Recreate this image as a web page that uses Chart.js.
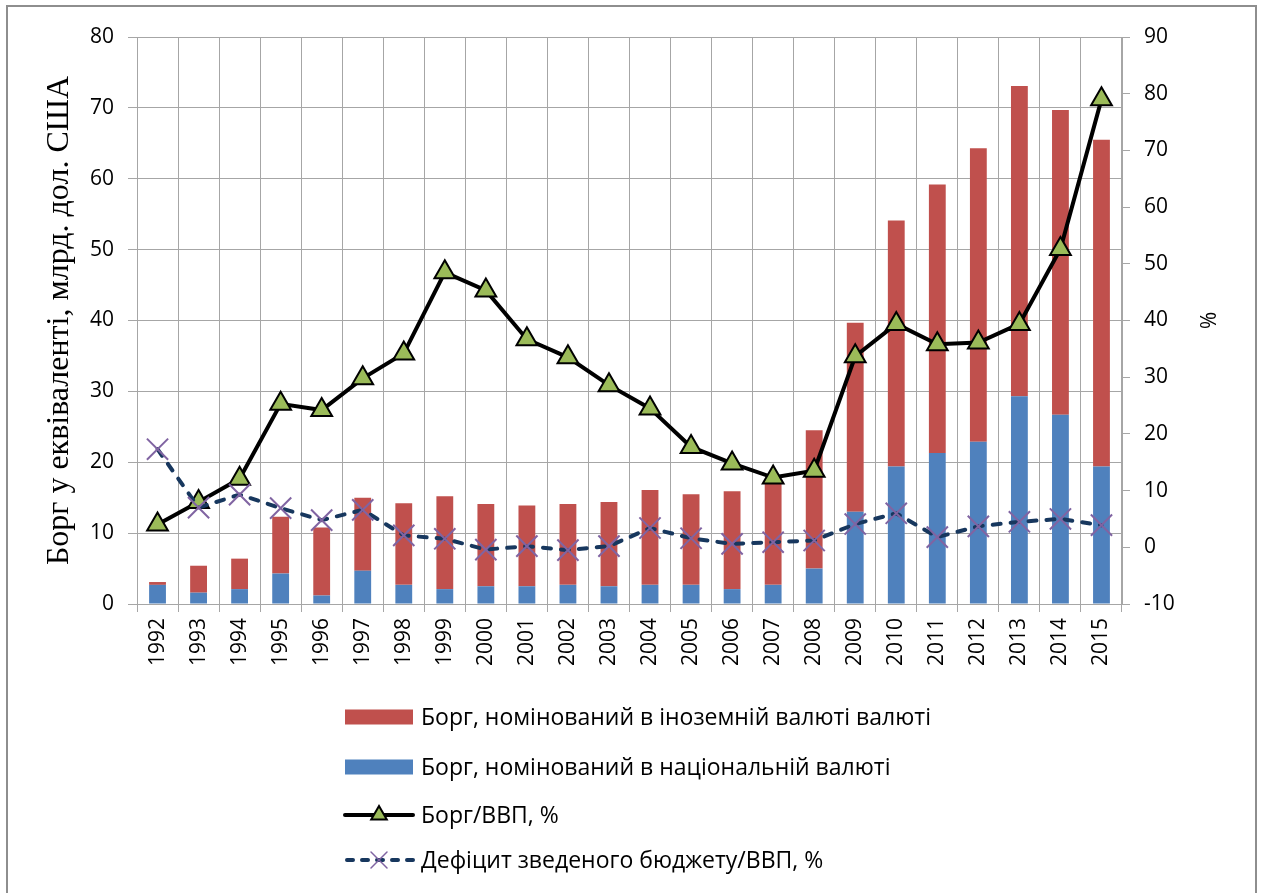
<!DOCTYPE html>
<html>
<head>
<meta charset="utf-8">
<script src="https://cdn.jsdelivr.net/npm/chart.js"></script>
<style>
  html, body { margin: 0; padding: 0; background: #fff; }
  #frame { position: absolute; left: 6px; top: 5px; width: 1247px; height: 900px; border: 2px solid #8e8e8e; }
  #c { position: absolute; left: 0; top: 0; }
</style>
</head>
<body>
<div id="frame"></div>
<canvas id="c" width="1265" height="893"></canvas>
<script>
// ---- data ----
const years = ['1992','1993','1994','1995','1996','1997','1998','1999','2000','2001','2002','2003',
               '2004','2005','2006','2007','2008','2009','2010','2011','2012','2013','2014','2015'];
const debtNational = [2.7,1.6,2.1,4.3,1.2,4.7,2.7,2.1,2.5,2.5,2.7,2.5,2.7,2.7,2.1,2.7,5.0,13.0,19.4,21.3,22.9,29.3,26.7,19.4];
const debtForeign  = [0.4,3.8,4.3,8.0,9.6,10.3,11.5,13.1,11.6,11.4,11.4,11.9,13.4,12.8,13.8,14.8,19.5,26.7,34.7,37.9,41.4,43.8,43.0,46.1];
const debtToGdp    = [4.0,8.0,12.1,25.3,24.2,29.8,34.2,48.5,45.3,36.7,33.5,28.6,24.5,17.7,14.8,12.3,13.5,33.7,39.4,35.8,36.1,39.4,52.6,79.0];
const deficitToGdp = [17.3,7.0,9.3,6.9,4.8,6.6,2.1,1.5,-0.4,0.2,-0.5,0.2,3.4,1.6,0.6,0.9,1.2,4.1,6.0,1.8,3.7,4.5,5.0,3.9];
const leftTicks  = {min: 0, max: 80, step: 10};
const rightTicks = {min: -10, max: 90, step: 10};
const labels = {
  foreign: 'Борг, номінований в іноземній валюті валюті',
  national: 'Борг, номінований в національній валюті',
  ratio: 'Борг/ВВП, %',
  deficit: 'Дефіцит зведеного бюджету/ВВП, %',
  yTitle: 'Борг у еквіваленті, млрд. дол. США',
  y1Title: '%'
};

const FONT = '"Open Sans", "Noto Sans", sans-serif';
const GRID = '#a6a6a6';
const RED = '#C0504D', BLUE = '#4F81BD', GREEN = '#9BBB59', PURPLE = '#8064A2', NAVY = '#17375E';

function drawTri(ctx, x, y, r) {
  ctx.beginPath();
  for (let i = 0; i < 3; i++) {
    const a = -Math.PI / 2 + i * 2 * Math.PI / 3;
    const px = x + Math.cos(a) * r, py = y + Math.sin(a) * r;
    if (i === 0) ctx.moveTo(px, py); else ctx.lineTo(px, py);
  }
  ctx.closePath();
  ctx.fillStyle = GREEN; ctx.fill();
  ctx.lineWidth = 2; ctx.strokeStyle = '#000'; ctx.stroke();
}
function drawX(ctx, x, y, r) {
  ctx.beginPath();
  ctx.moveTo(x - r, y - r); ctx.lineTo(x + r, y + r);
  ctx.moveTo(x + r, y - r); ctx.lineTo(x - r, y + r);
  ctx.lineWidth = 1.5; ctx.strokeStyle = PURPLE; ctx.stroke();
}

const legendPlugin = {
  id: 'stackLegend',
  afterDraw(chart) {
    const ctx = chart.ctx;
    const x0 = 345, x1 = 413, tx = 421;
    const rows = [
      {y: 717, type: 'box', color: RED, text: labels.foreign},
      {y: 767, type: 'box', color: BLUE, text: labels.national},
      {y: 815, type: 'tri', text: labels.ratio},
      {y: 860, type: 'dash', text: labels.deficit}
    ];
    ctx.save();
    rows.forEach(r => {
      if (r.type === 'box') {
        ctx.fillStyle = r.color;
        ctx.fillRect(x0, r.y - 7.5, x1 - x0, 15);
      } else if (r.type === 'tri') {
        ctx.beginPath(); ctx.moveTo(x0, r.y); ctx.lineTo(x1, r.y);
        ctx.lineWidth = 4; ctx.strokeStyle = '#000'; ctx.lineCap = 'round'; ctx.stroke();
        drawTri(ctx, (x0 + x1) / 2, r.y, 9);
      } else {
        ctx.beginPath(); ctx.setLineDash([6, 9]); ctx.moveTo(x0 + 2, r.y); ctx.lineTo(x1, r.y);
        ctx.lineWidth = 4; ctx.strokeStyle = NAVY; ctx.lineCap = 'round'; ctx.stroke();
        ctx.setLineDash([]);
        drawX(ctx, (x0 + x1) / 2, r.y, 8);
      }
      ctx.fillStyle = '#000';
      ctx.font = '23px ' + FONT;
      ctx.textBaseline = 'middle';
      ctx.textAlign = 'left';
      ctx.fillText(r.text, tx, r.y + 1);
    });
    ctx.restore();
  }
};

const ctx = document.getElementById('c').getContext('2d');
new Chart(ctx, {
  type: 'bar',
  data: {
    labels: years,
    datasets: [
      { type: 'line', label: labels.deficit, data: deficitToGdp, yAxisID: 'y1', order: 0,
        borderColor: NAVY, borderWidth: 4, borderDash: [8, 10], borderCapStyle: 'round',
        pointStyle: 'crossRot', pointRadius: 15, pointBorderColor: PURPLE, pointBorderWidth: 2,
        pointBackgroundColor: PURPLE, tension: 0, fill: false },
      { type: 'line', label: labels.ratio, data: debtToGdp, yAxisID: 'y1', order: 1,
        borderColor: '#000', borderWidth: 4, pointStyle: 'triangle', pointRadius: 12,
        pointBackgroundColor: GREEN, pointBorderColor: '#000', pointBorderWidth: 2, tension: 0, fill: false },
      { label: labels.national, data: debtNational, backgroundColor: BLUE, yAxisID: 'y', order: 2,
        barPercentage: 0.41, categoryPercentage: 1 },
      { label: labels.foreign, data: debtForeign, backgroundColor: RED, yAxisID: 'y', order: 3,
        barPercentage: 0.41, categoryPercentage: 1 }
    ]
  },
  options: {
    responsive: false,
    animation: false,
    layout: { padding: { top: 37, bottom: 209, left: 0, right: 0 } },
    plugins: { legend: { display: false }, tooltip: { enabled: false } },
    scales: {
      x: {
        stacked: true,
        grid: { color: GRID, offset: true, tickLength: 8, lineWidth: 1 },
        border: { color: GRID },
        ticks: { font: { family: FONT, size: 21 }, color: '#000', minRotation: 90, maxRotation: 90, padding: 6, autoSkip: false },
        afterFit(s) { s.height = 80; }
      },
      y: {
        stacked: true, position: 'left',
        min: leftTicks.min, max: leftTicks.max,
        ticks: { stepSize: leftTicks.step, font: { family: FONT, size: 21 }, color: '#000', padding: 14 },
        grid: { color: GRID, tickLength: 9 },
        border: { color: GRID },
        title: { display: true, text: labels.yTitle, color: '#000',
                 font: { family: '"Liberation Serif", "Times New Roman", serif', size: 32 }, padding: { top: 40 } },
        afterFit(s) { s.width = 137; }
      },
      y1: {
        position: 'right',
        min: rightTicks.min, max: rightTicks.max,
        ticks: { stepSize: rightTicks.step, font: { family: FONT, size: 21 }, color: '#000', padding: 14 },
        grid: { drawOnChartArea: false, color: GRID, tickLength: 8 },
        border: { color: GRID },
        title: { display: true, text: labels.y1Title, color: '#000',
                 font: { family: FONT, size: 21 }, padding: { top: 46 } },
        afterFit(s) { s.width = 143; }
      }
    }
  },
  plugins: [legendPlugin]
});
</script>
</body>
</html>
